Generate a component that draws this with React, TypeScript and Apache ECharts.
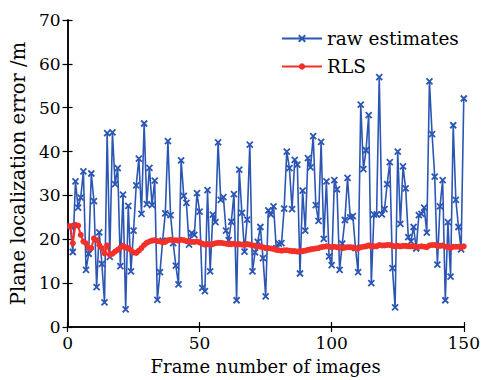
import React, { useEffect, useRef } from "react";
import * as echarts from "echarts";

const rawEstimates: number[] = [
  23.0, 17.1, 33.2, 27.2, 29.5, 35.5, 13.0, 16.7, 35.0, 28.7,
  9.1, 21.6, 14.4, 5.6, 44.2, 16.0, 44.4, 32.6, 36.2, 13.9,
  30.2, 4.0, 27.6, 12.7, 22.0, 32.3, 38.4, 25.8, 46.4, 28.0,
  36.3, 27.8, 33.4, 6.2, 12.5, 19.7, 25.9, 42.4, 25.5, 19.1,
  14.0, 9.7, 38.0, 29.9, 28.3, 18.8, 21.4, 21.0, 30.5, 26.3,
  8.9, 8.2, 31.2, 12.7, 25.6, 23.9, 42.1, 29.0, 29.6, 22.0,
  19.8, 24.0, 30.3, 6.1, 35.9, 26.0, 17.2, 24.5, 41.6, 12.7,
  17.0, 19.4, 22.8, 15.7, 7.0, 26.6, 25.6, 27.5, 18.0, 19.0,
  19.1, 27.0, 40.0, 36.2, 26.9, 38.1, 37.0, 12.2, 31.1, 22.0,
  38.5, 36.4, 43.5, 27.8, 24.2, 42.2, 20.1, 33.2, 16.1, 14.1,
  33.5, 31.4, 13.0, 19.0, 24.4, 34.0, 25.0, 25.3, 18.0, 12.5,
  50.7, 36.0, 40.3, 48.3, 10.0, 25.6, 25.7, 57.0, 25.7, 26.9,
  32.6, 37.6, 13.4, 4.5, 40.0, 23.5, 36.6, 31.6, 20.5, 19.5,
  22.8, 17.9, 25.5, 25.8, 27.2, 21.5, 56.0, 44.0, 34.3, 14.2,
  27.5, 33.5, 6.1, 23.9, 11.5, 46.0, 29.0, 22.8, 17.7, 52.1,
];

const rlsEstimates: number[] = [
  23.0, 19.1, 23.3, 23.1, 21.0, 19.5, 19.1, 18.0, 18.0, 20.2,
  19.8, 18.7, 18.0, 16.8, 18.6, 16.5, 16.7, 17.2, 17.6, 18.1,
  18.5, 18.1, 18.0, 17.5, 17.0, 16.9, 17.4, 18.0, 18.7, 19.2,
  19.5, 19.7, 19.8, 19.6, 19.5, 19.3, 19.4, 19.8, 19.9, 19.7,
  19.8, 19.7, 19.9, 19.8, 19.6, 19.5, 19.4, 19.4, 19.5, 19.3,
  19.0, 18.8, 18.9, 18.8, 18.9, 19.1, 19.2, 19.2, 19.1, 19.0,
  18.9, 18.9, 19.0, 18.8, 18.9, 18.8, 18.7, 18.9, 18.8, 18.6,
  18.5, 18.4, 18.3, 18.2, 18.0, 18.0, 17.9, 17.8, 17.6, 17.5,
  17.4, 17.5, 17.5, 17.4, 17.3, 17.3, 17.2, 17.3, 17.3, 17.4,
  17.6, 17.7, 17.8, 17.9, 18.0, 18.2, 18.3, 18.4, 18.3, 18.2,
  18.3, 18.2, 18.1, 18.0, 18.1, 18.2, 18.2, 18.1, 18.0, 17.9,
  18.2, 18.3, 18.4, 18.6, 18.4, 18.4, 18.4, 18.7, 18.6, 18.6,
  18.7, 18.7, 18.5, 18.4, 18.5, 18.4, 18.5, 18.5, 18.4, 18.4,
  18.4, 18.3, 18.3, 18.4, 18.3, 18.2, 18.6, 18.7, 18.7, 18.5,
  18.5, 18.6, 18.3, 18.3, 18.0, 18.3, 18.3, 18.3, 18.1, 18.4,
];

const seriesNames = ["raw estimates", "RLS"];
const xTitle = "Frame number of images";
const yTitle = "Plane localization error /m";

const BLUE = "#2b56b4";
const RED = "#f2302a";
const FONT = "DejaVu Serif";

export default function App() {
  const ref = useRef<HTMLDivElement>(null);

  useEffect(() => {
    if (!ref.current) return;
    const chart = echarts.init(ref.current, undefined, { renderer: "svg" });
    const rawData = rawEstimates.map((v, i) => [i + 1, v]);
    const rlsData = rlsEstimates.map((v, i) => [i + 1, v]);

    const axisLine = { show: true, lineStyle: { color: "#000", width: 1.5 } };
    const tick = { show: true, inside: true, length: 5, lineStyle: { color: "#000", width: 1.2 } };
    const label = { color: "#000", fontFamily: FONT, fontSize: 17 };

    chart.setOption({
      animation: false,
      backgroundColor: "#fff",
      textStyle: { fontFamily: FONT },
      grid: { left: 63, top: 20, right: 17, bottom: 49, containLabel: false },
      legend: {
        orient: "vertical",
        left: 281,
        top: 29,
        itemWidth: 40,
        itemHeight: 8,
        itemGap: 9,
        padding: 0,
        data: seriesNames,
        textStyle: { color: "#000", fontFamily: FONT, fontSize: 18.5 },
      },
      xAxis: [
        {
          type: "value",
          min: 0,
          max: 150,
          interval: 50,
          axisLine,
          axisTick: tick,
          splitLine: { show: false },
          axisLabel: { ...label, margin: 7 },
          name: xTitle,
          nameLocation: "middle",
          nameGap: 30,
          nameTextStyle: { color: "#000", fontFamily: FONT, fontSize: 18 },
        },
        {
          type: "value",
          position: "top",
          min: 0,
          max: 150,
          interval: 50,
          axisLine,
          axisTick: tick,
          splitLine: { show: false },
          axisLabel: { show: false },
        },
      ],
      yAxis: [
        {
          type: "value",
          min: 0,
          max: 70,
          interval: 10,
          axisLine,
          axisTick: tick,
          splitLine: { show: false },
          axisLabel: { ...label, margin: 7 },
          name: yTitle,
          nameLocation: "middle",
          nameGap: 31,
          nameTextStyle: { color: "#000", fontFamily: FONT, fontSize: 19.5 },
        },
        {
          type: "value",
          position: "right",
          min: 0,
          max: 70,
          interval: 10,
          axisLine,
          axisTick: tick,
          splitLine: { show: false },
          axisLabel: { show: false },
        },
      ],
      series: [
        {
          name: seriesNames[0],
          type: "line",
          data: rawData,
          xAxisIndex: 0,
          yAxisIndex: 0,
          symbol: "path://M0,0L10,10M10,0L0,10",
          symbolSize: 6,
          showSymbol: true,
          lineStyle: { color: BLUE, width: 1.6 },
          itemStyle: { color: BLUE, borderColor: BLUE, borderWidth: 1.8 },
          z: 2,
        },
        {
          name: seriesNames[1],
          type: "line",
          data: rlsData,
          xAxisIndex: 0,
          yAxisIndex: 0,
          symbol: "circle",
          symbolSize: 6,
          showSymbol: true,
          lineStyle: { color: RED, width: 2 },
          itemStyle: { color: RED },
          z: 3,
        },
      ],
    });
    return () => chart.dispose();
  }, []);

  return (
    <div
      ref={ref}
      style={{ position: "fixed", left: 0, top: 0, width: 483, height: 380, background: "#fff" }}
    />
  );
}
